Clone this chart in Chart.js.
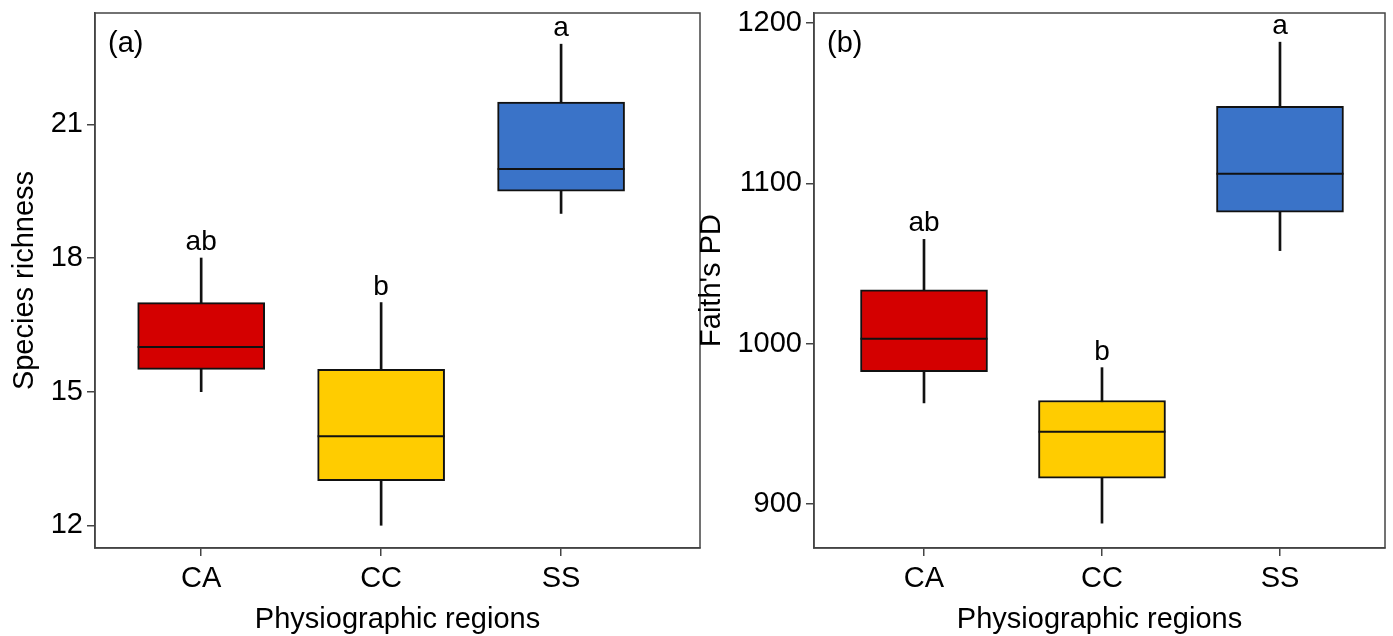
<!DOCTYPE html>
<html>
<head>
<meta charset="utf-8">
<script src="https://cdn.jsdelivr.net/npm/chart.js@4.4.0/dist/chart.umd.min.js"></script>
<style>
body{margin:0;background:#fff;width:1393px;height:636px;overflow:hidden;position:relative}
canvas{position:absolute;top:0}
#richChart{left:0}
#pdChart{left:690px}
</style>
</head>
<body>
<canvas id="richChart" width="705" height="636"></canvas>
<canvas id="pdChart" width="703" height="636"></canvas>
<script>
// categories
const regions = ['CA', 'CC', 'SS'];
const regionPos = [1, 2, 3];
const letters = ['ab', 'b', 'a'];
const boxColors = ['#d40000', '#ffcc00', '#3a73c8'];

// (a) species richness
const richMin = [15, 12, 19];
const richQ1 = [15.5, 13, 19.5];
const richMed = [16, 14, 20];
const richQ3 = [17, 15.5, 21.5];
const richMax = [18, 17, 22.8];
const richTicks = [12, 15, 18, 21];

// (b) Faith's PD
const pdMin = [963, 888, 1058];
const pdQ1 = [982.5, 916, 1082];
const pdMed = [1003, 945, 1106];
const pdQ3 = [1033.5, 964.5, 1148];
const pdMax = [1065, 985, 1188];
const pdTicks = [900, 1000, 1100, 1200];

const FONT = '"Liberation Sans", Arial, sans-serif';

// medianes, lettres, etiquette du panneau et cadre
const boxExtras = {
    id: 'boxExtras',
    afterDatasetsDraw(chart, args, opts) {
        const {ctx, chartArea, scales} = chart;
        const boxes = chart.getDatasetMeta(1).data;
        ctx.save();
        ctx.strokeStyle = '#111';
        ctx.lineWidth = 2;
        boxes.forEach((bar, i) => {
            const y = scales.y.getPixelForValue(opts.medians[i]);
            ctx.beginPath();
            ctx.moveTo(bar.x - bar.width / 2, y);
            ctx.lineTo(bar.x + bar.width / 2, y);
            ctx.stroke();
        });
        ctx.fillStyle = '#000';
        ctx.font = '28px ' + FONT;
        ctx.textAlign = 'center';
        ctx.textBaseline = 'alphabetic';
        boxes.forEach((bar, i) => {
            ctx.fillText(letters[i], bar.x, scales.y.getPixelForValue(opts.tops[i]) - 8);
        });
        ctx.textAlign = 'left';
        ctx.font = '29px ' + FONT;
        ctx.fillText(opts.tag, chartArea.left + 13, chartArea.top + 39);
        ctx.strokeStyle = '#444';
        ctx.lineWidth = 1.5;
        ctx.strokeRect(chartArea.left, chartArea.top, chartArea.right - chartArea.left, chartArea.bottom - chartArea.top);
        ctx.restore();
    }
};

const boxChart = (id, c) => {
    const ctx = document.getElementById(id);

    const data = {
        datasets: [{
            data: regionPos.map((x, i) => ({x: x, y: [c.min[i], c.max[i]]})),
            backgroundColor: '#111',
            borderWidth: 0,
            barThickness: 2,
            grouped: false,
            order: 2
        }, {
            data: regionPos.map((x, i) => ({x: x, y: [c.q1[i], c.q3[i]]})),
            backgroundColor: boxColors,
            borderColor: '#111',
            borderWidth: 2,
            borderSkipped: false,
            barThickness: 127,
            grouped: false,
            order: 1
        }]
    };

    new Chart(ctx, {
        type: 'bar',
        data: data,
        plugins: [boxExtras],
        options: {
            responsive: false,
            animation: false,
            events: [],
            layout: {padding: {left: 0, right: c.padRight, top: 13, bottom: 0}},
            scales: {
                x: {
                    type: 'linear',
                    min: c.xMin,
                    max: c.xMax,
                    offset: false,
                    afterBuildTicks: s => { s.ticks = regionPos.map(v => ({value: v})); },
                    afterFit: s => { s.height = 88; s.paddingLeft = 0; s.paddingRight = 0; },
                    grid: {offset: false, drawOnChartArea: false, drawTicks: true, tickLength: 8, color: '#444', tickColor: '#444', lineWidth: 1.5},
                    border: {display: true, color: '#444', width: 1.5},
                    ticks: {
                        autoSkip: false,
                        maxRotation: 0,
                        padding: 6,
                        color: '#000',
                        font: {family: FONT, size: 29},
                        callback: (v, i) => regions[i]
                    },
                    title: {display: true, text: 'Physiographic regions', color: '#000', font: {family: FONT, size: 29, lineHeight: 1.1}, padding: {top: 0, bottom: 0}}
                },
                y: {
                    min: c.yMin,
                    max: c.yMax,
                    afterBuildTicks: s => { s.ticks = c.ticks.map(v => ({value: v})); },
                    afterFit: s => { s.width = c.yWidth; s.paddingTop = 0; s.paddingBottom = 0; },
                    grid: {drawOnChartArea: false, drawTicks: true, tickLength: 8, color: '#444', tickColor: '#444', lineWidth: 1.5},
                    border: {display: true, color: '#444', width: 1.5},
                    ticks: {
                        padding: 4,
                        color: '#000',
                        font: {family: FONT, size: 29},
                        callback: v => String(v)
                    },
                    title: {display: true, text: c.yTitle, color: '#000', font: {family: FONT, size: 29, lineHeight: 1.1}, padding: {top: c.titlePad, bottom: 0}}
                }
            },
            plugins: {
                legend: {display: false},
                tooltip: {enabled: false},
                boxExtras: {medians: c.med, tops: c.max, tag: c.tag}
            }
        }
    });
}

boxChart('richChart', {
    min: richMin, q1: richQ1, med: richMed, q3: richQ3, max: richMax, ticks: richTicks,
    yMin: 11.49, yMax: 23.5, xMin: 0.41, xMax: 3.772,
    yWidth: 95, padRight: 5, titlePad: 9,
    yTitle: 'Species richness', tag: '(a)'
});

boxChart('pdChart', {
    min: pdMin, q1: pdQ1, med: pdMed, q3: pdQ3, max: pdMax, ticks: pdTicks,
    yMin: 872.5, yMax: 1206.2, xMin: 0.382, xMax: 3.59,
    yWidth: 124, padRight: 8, titlePad: 6,
    yTitle: "Faith's PD", tag: '(b)'
});
</script>
</body>
</html>
